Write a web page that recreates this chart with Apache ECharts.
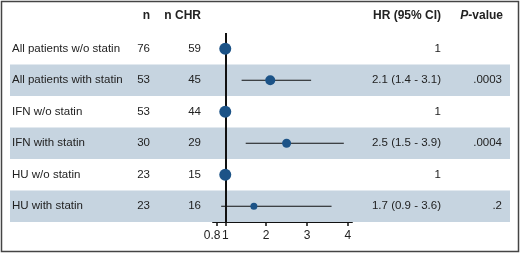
<!DOCTYPE html>
<html>
<head>
<meta charset="utf-8">
<script src="https://cdn.jsdelivr.net/npm/echarts@6/dist/echarts.min.js"></script>
<style>
  html, body { margin: 0; padding: 0; background: #fff; }
  #chart { width: 520px; height: 253px; }
</style>
</head>
<body>
<div id="chart"></div>
<script>
// 数据
var rowLabels = ['All patients w/o statin', 'All patients with statin', 'IFN w/o statin', 'IFN with statin', 'HU w/o statin', 'HU with statin'];
var nTotal = [76, 53, 53, 30, 23, 23];
var nChr = [59, 45, 44, 29, 15, 16];
var hr = [1, 2.1, 1, 2.5, 1, 1.7];
var ciLow = [null, 1.4, null, 1.5, null, 0.9];
var ciHigh = [null, 3.1, null, 3.9, null, 3.6];
var hrText = ['1', '2.1 (1.4 - 3.1)', '1', '2.5 (1.5 - 3.9)', '1', '1.7 (0.9 - 3.6)'];
var pText = ['', '.0003', '', '.0004', '', '.2'];
var shaded = [0, 1, 0, 1, 0, 1];
var xTicks = [0.8, 1, 2, 3, 4];

// 样式
var dotSize = [12, 10, 12, 9, 12, 7];
var txtFont = '11.5px "Liberation Sans", Arial, sans-serif';
var boldFont = 'bold 12px "Liberation Sans", Arial, sans-serif';
var txtColor = '#222';
var dotColor = '#1c5387';

var dom = document.getElementById('chart');
var myChart = echarts.init(dom);

var cats = rowLabels.map(function (d, i) { return i; });

var option = {
	animation: false,
	grid: [
		{ left: 10, right: 10, top: 33, height: 189 }, // 整行背景和文字
		{ left: 213, width: 139, top: 33, height: 189 } // 森林图
	],
	xAxis: [
		{ gridIndex: 0, type: 'value', min: 0, max: 500, show: false },
		{
			gridIndex: 1, type: 'value', min: 0.7, max: 4.1,
			axisLine: { show: true, lineStyle: { color: '#111', width: 2 } },
			axisTick: { show: true, customValues: xTicks, length: 4, lineStyle: { color: '#111', width: 1.5 } },
			axisLabel: {
				customValues: xTicks, margin: 8, color: txtColor, fontSize: 12,
				fontFamily: '"Liberation Sans", Arial, sans-serif',
				formatter: function (v) { return v === 0.8 ? '{a|0.8}' : String(v); },
				rich: { a: { padding: [0, 10, 0, 0], fontSize: 12, color: txtColor } }
			},
			splitLine: { show: false }
		}
	],
	yAxis: [
		{ gridIndex: 0, type: 'category', data: cats, inverse: true, show: false },
		{ gridIndex: 1, type: 'category', data: cats, inverse: true, show: false }
	],
	graphic: [
		{ type: 'rect', shape: { x: 1.5, y: 1.5, width: 517, height: 250 }, style: { fill: 'none', stroke: '#444', lineWidth: 1.5 }, z: 100 },
		{ type: 'text', x: 150, y: 16, style: { text: 'n', font: boldFont, fill: txtColor, align: 'right', verticalAlign: 'middle' } },
		{ type: 'text', x: 201, y: 16, style: { text: 'n CHR', font: boldFont, fill: txtColor, align: 'right', verticalAlign: 'middle' } },
		{ type: 'text', x: 441, y: 16, style: { text: 'HR (95% CI)', font: boldFont, fill: txtColor, align: 'right', verticalAlign: 'middle' } },
		{
			type: 'text', x: 503, y: 16,
			style: {
				text: '{i|P}{b|-value}', align: 'right', verticalAlign: 'middle',
				rich: {
					i: { fontStyle: 'italic', fontWeight: 'bold', fontSize: 12, fontFamily: '"Liberation Sans", Arial', fill: txtColor },
					b: { fontWeight: 'bold', fontSize: 12, fontFamily: '"Liberation Sans", Arial', fill: txtColor }
				}
			}
		}
	],
	series: [
		{
			// 隔行背景
			type: 'bar', xAxisIndex: 0, yAxisIndex: 0, silent: true, z: 1,
			barWidth: '100%',
			itemStyle: { color: '#c6d4e0' },
			data: shaded.map(function (s) { return s ? 500 : '-'; })
		},
		{
			// 文字列
			type: 'custom', xAxisIndex: 0, yAxisIndex: 0, silent: true, z: 3,
			data: cats.map(function (i) { return [0, i]; }),
			renderItem: function (params, api) {
				var i = params.dataIndex;
				var y = api.coord([0, i])[1];
				var cols = [
					[2, rowLabels[i], 'left'],
					[140, String(nTotal[i]), 'right'],
					[191, String(nChr[i]), 'right'],
					[431, hrText[i], 'right'],
					[492, pText[i], 'right']
				];
				return {
					type: 'group',
					children: cols.map(function (c) {
						var x = api.coord([c[0], i])[0];
						return {
							type: 'text', x: x, y: y,
							style: { text: c[1], font: txtFont, fill: txtColor, align: c[2], verticalAlign: 'middle' }
						};
					})
				};
			}
		},
		{
			// 置信区间
			type: 'custom', xAxisIndex: 1, yAxisIndex: 1, silent: true, z: 4,
			data: cats.filter(function (i) { return ciLow[i] != null; }).map(function (i) { return [ciLow[i], ciHigh[i], i]; }),
			renderItem: function (params, api) {
				var p1 = api.coord([api.value(0), api.value(2)]);
				var p2 = api.coord([api.value(1), api.value(2)]);
				return {
					type: 'line',
					shape: { x1: p1[0], y1: p1[1], x2: p2[0], y2: p2[1] },
					style: { stroke: '#111', lineWidth: 1 }
				};
			}
		},
		{
			// HR 点
			type: 'scatter', xAxisIndex: 1, yAxisIndex: 1, silent: true, z: 5,
			data: cats.map(function (i) {
				return { value: [hr[i], i], symbolSize: dotSize[i] };
			}),
			itemStyle: { color: dotColor, opacity: 1 },
			markLine: {
				silent: true, symbol: 'none', animation: false,
				label: { show: false },
				lineStyle: { color: '#111', width: 2, type: 'solid' },
				data: [{ xAxis: 1 }]
			}
		}
	]
};

myChart.setOption(option);
</script>
</body>
</html>
